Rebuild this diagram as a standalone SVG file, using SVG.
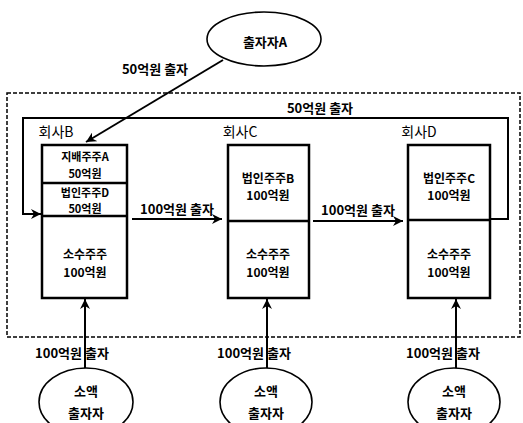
<svg xmlns="http://www.w3.org/2000/svg" width="523" height="423" viewBox="0 0 523 423">
<style>
text{font-family:"Noto Sans CJK KR","Noto Sans",sans-serif;font-weight:bold;fill:#000;text-anchor:middle;dominant-baseline:central}
.t{font-size:12px}
.s{font-size:11px}
.h{font-size:14px;font-weight:normal}
.l{font-size:13px}
.box{fill:#fff;stroke:#000;stroke-width:2.5}
.ell{fill:#fff;stroke:#000;stroke-width:1.6}
.ln{fill:none;stroke:#000;stroke-width:2}
.dv{stroke:#000;stroke-width:2.5}
.dash{fill:none;stroke:#000;stroke-width:1.5;stroke-dasharray:4 2}
</style>
<defs>
<marker id="ah" viewBox="0 0 10 10" refX="10" refY="5" markerWidth="5" markerHeight="5" orient="auto" markerUnits="strokeWidth">
<path d="M0,0 L10,5 L0,10 L3,5 Z" fill="#000"/>
</marker>
</defs>
<rect class="dash" x="7" y="93" width="513" height="244"/>
<g id="connectors">
<line class="ln" x1="223" y1="60" x2="86" y2="142" marker-end="url(#ah)"/>
<polyline class="ln" points="490,219 508,219 508,118 23,118 23,214 41,214" marker-end="url(#ah)"/>
<line class="ln" x1="132" y1="219" x2="222" y2="219" marker-end="url(#ah)"/>
<line class="ln" x1="313" y1="221" x2="403" y2="221" marker-end="url(#ah)"/>
<line class="ln" x1="85" y1="368" x2="85" y2="299" marker-end="url(#ah)"/>
<line class="ln" x1="267" y1="368" x2="267" y2="299" marker-end="url(#ah)"/>
<line class="ln" x1="456" y1="368" x2="456" y2="299" marker-end="url(#ah)"/>
<text class="l" x="155" y="68">50억원 출자</text>
<text class="l" x="320" y="107">50억원 출자</text>
<text class="l" x="177" y="208">100억원 출자</text>
<text class="l" x="358" y="209">100억원 출자</text>
<text class="l" x="72" y="352">100억원 출자</text>
<text class="l" x="254" y="352">100억원 출자</text>
<text class="l" x="443" y="352">100억원 출자</text>
</g>
<g id="investorA">
<ellipse class="ell" cx="264" cy="39" rx="57" ry="27"/>
<text class="l" x="265" y="41">출자자A</text>
</g>
<g id="companyB">
<text class="h" x="56" y="131">회사B</text>
<rect class="box" x="42" y="145" width="85" height="153"/>
<line class="dv" x1="42" y1="183" x2="127" y2="183"/>
<line class="dv" x1="42" y1="216" x2="127" y2="216"/>
<text class="s" x="85" y="156">지배주주A</text>
<text class="s" x="85" y="173">50억원</text>
<text class="s" x="85" y="192">법인주주D</text>
<text class="s" x="85" y="208">50억원</text>
<text class="t" x="85" y="253">소수주주</text>
<text class="t" x="85" y="271">100억원</text>
</g>
<g id="companyC">
<text class="h" x="240" y="131">회사C</text>
<rect class="box" x="228" y="145" width="81" height="153"/>
<line class="dv" x1="228" y1="221" x2="309" y2="221"/>
<text class="t" x="268" y="177">법인주주B</text>
<text class="t" x="268" y="194">100억원</text>
<text class="t" x="268" y="253">소수주주</text>
<text class="t" x="268" y="271">100억원</text>
</g>
<g id="companyD">
<text class="h" x="419" y="131">회사D</text>
<rect class="box" x="408" y="145" width="82" height="153"/>
<line class="dv" x1="408" y1="220" x2="490" y2="220"/>
<text class="t" x="449" y="177">법인주주C</text>
<text class="t" x="449" y="194">100억원</text>
<text class="t" x="449" y="253">소수주주</text>
<text class="t" x="449" y="271">100억원</text>
</g>
<g id="small1">
<ellipse class="ell" cx="86" cy="402" rx="47" ry="34"/>
<text class="l" x="86" y="390">소액</text>
<text class="l" x="86" y="412">출자자</text>
</g>
<g id="small2">
<ellipse class="ell" cx="266" cy="402" rx="46" ry="34"/>
<text class="l" x="266" y="390">소액</text>
<text class="l" x="266" y="412">출자자</text>
</g>
<g id="small3">
<ellipse class="ell" cx="454" cy="402" rx="46" ry="34"/>
<text class="l" x="454" y="390">소액</text>
<text class="l" x="454" y="412">출자자</text>
</g>
</svg>
